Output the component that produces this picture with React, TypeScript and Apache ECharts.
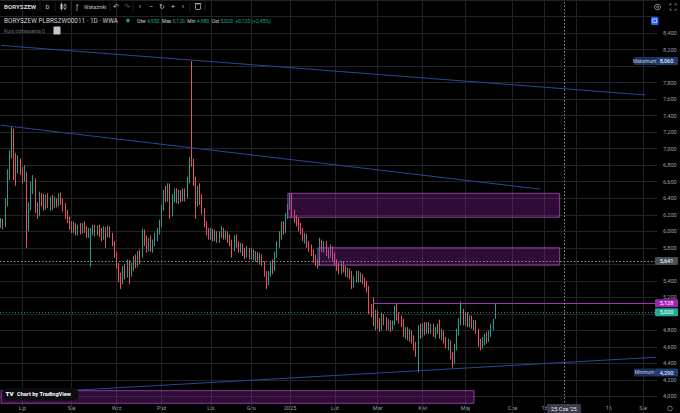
import React, { useEffect, useRef } from 'react';
import * as echarts from 'echarts';

// ---------- data (PLN, [open, close, low, high]) ----------
const jun24 = [
  [6.08, 6.12, 6.04, 6.16], [6.12, 6.08, 6.02, 6.15], [6.08, 6.35, 6.05, 6.40], [6.35, 6.70, 6.30, 6.75],
  [6.70, 6.92, 6.62, 6.98], [6.92, 7.22, 6.88, 7.27], [7.20, 6.88, 6.62, 7.24], [6.88, 6.75, 6.55, 6.95],
  [6.75, 6.85, 6.70, 6.92], [6.85, 6.72, 6.68, 6.88],
];
const jul24 = [
  [6.72, 6.65, 6.58, 6.78], [6.65, 6.70, 6.60, 6.80], [6.68, 6.05, 5.80, 6.72], [6.05, 6.30, 6.00, 6.35],
  [6.30, 6.55, 6.25, 6.60], [6.55, 6.62, 6.45, 6.68], [6.60, 6.28, 6.22, 6.64], [6.28, 6.20, 6.15, 6.35],
  [6.20, 6.42, 6.18, 6.48], [6.42, 6.35, 6.30, 6.46], [6.35, 6.30, 6.25, 6.45], [6.30, 6.40, 6.26, 6.44],
  [6.40, 6.32, 6.28, 6.46], [6.32, 6.38, 6.25, 6.42], [6.38, 6.30, 6.26, 6.44], [6.30, 6.36, 6.28, 6.42],
  [6.36, 6.33, 6.29, 6.40], [6.33, 6.42, 6.30, 6.46], [6.42, 6.36, 6.32, 6.47], [6.36, 6.30, 6.24, 6.40],
  [6.30, 6.22, 6.15, 6.34], [6.22, 6.15, 6.10, 6.26], [6.15, 6.08, 6.02, 6.18],
];
const aug24 = [
  [6.08, 6.02, 5.98, 6.12], [6.02, 6.08, 5.98, 6.12], [6.08, 5.98, 5.95, 6.10], [5.98, 6.05, 5.95, 6.08],
  [6.05, 6.00, 5.96, 6.10], [6.00, 6.06, 5.97, 6.10], [6.06, 6.02, 5.98, 6.12], [6.02, 5.96, 5.92, 6.06],
  [5.96, 6.00, 5.92, 6.04], [5.95, 6.00, 5.57, 6.04], [6.00, 6.05, 5.95, 6.08], [6.05, 5.98, 5.94, 6.08],
  [5.98, 6.04, 5.95, 6.07], [6.04, 6.00, 5.93, 6.08], [6.00, 5.92, 5.88, 6.04], [5.92, 6.02, 5.90, 6.06],
  [6.02, 5.96, 5.80, 6.05], [5.96, 6.04, 5.93, 6.07], [6.04, 5.96, 5.92, 6.06], [5.96, 5.85, 5.82, 5.98],
  [5.85, 5.72, 5.68, 5.88],
];
const sep24 = [
  [5.72, 5.60, 5.55, 5.75], [5.60, 5.45, 5.38, 5.62], [5.45, 5.40, 5.30, 5.50], [5.40, 5.55, 5.36, 5.58],
  [5.55, 5.48, 5.42, 5.60], [5.48, 5.62, 5.44, 5.66], [5.62, 5.50, 5.36, 5.65], [5.50, 5.58, 5.45, 5.62],
  [5.58, 5.65, 5.52, 5.70], [5.65, 5.60, 5.55, 5.72], [5.60, 5.72, 5.57, 5.76], [5.72, 5.68, 5.60, 5.78],
  [5.70, 6.00, 5.68, 6.03], [6.00, 5.90, 5.82, 6.02], [5.90, 5.80, 5.74, 5.95], [5.80, 5.88, 5.76, 5.92],
  [5.88, 5.80, 5.75, 5.95], [5.80, 5.86, 5.74, 5.90], [5.86, 5.95, 5.82, 5.98], [5.95, 6.00, 5.88, 6.04],
  [6.00, 6.10, 5.96, 6.14],
];
const oct24 = [
  [6.10, 6.28, 6.05, 6.32], [6.28, 6.45, 6.25, 6.50], [6.45, 6.40, 6.35, 6.55], [6.40, 6.55, 6.36, 6.58],
  [6.55, 6.20, 6.15, 6.58], [6.22, 6.40, 6.18, 6.45], [6.40, 6.48, 6.35, 6.52], [6.48, 6.38, 6.34, 6.52],
  [6.38, 6.45, 6.33, 6.50], [6.45, 6.40, 6.35, 6.50], [6.40, 6.48, 6.36, 6.52], [6.48, 6.42, 6.36, 6.52],
  [6.42, 6.62, 6.40, 6.66], [6.62, 6.85, 6.58, 6.90], [6.98, 6.82, 6.78, 8.06], [6.82, 6.62, 6.55, 6.88],
  [6.62, 6.38, 6.15, 6.66], [6.38, 6.50, 6.30, 6.55], [6.50, 6.40, 6.32, 6.58], [6.40, 6.25, 6.20, 6.45],
  [6.25, 6.10, 6.05, 6.28], [6.10, 6.00, 5.95, 6.12], [6.00, 5.95, 5.90, 6.04],
];
const nov24 = [
  [5.95, 6.00, 5.90, 6.04], [6.00, 5.92, 5.88, 6.03], [5.92, 5.98, 5.88, 6.02], [5.98, 5.90, 5.86, 6.00],
  [5.90, 5.95, 5.86, 6.00], [5.95, 6.02, 5.92, 6.06], [6.02, 5.94, 5.90, 6.04], [5.94, 5.98, 5.90, 6.01],
  [5.98, 5.92, 5.86, 6.00], [5.92, 5.86, 5.82, 5.96], [5.86, 5.80, 5.68, 5.90], [5.80, 5.90, 5.76, 5.95],
  [5.90, 5.84, 5.80, 5.96], [5.84, 5.78, 5.74, 5.88], [5.78, 5.82, 5.74, 5.86], [5.82, 5.76, 5.70, 5.85],
  [5.76, 5.72, 5.66, 5.80], [5.72, 5.78, 5.68, 5.82], [5.78, 5.70, 5.66, 5.80],
];
const dec24 = [
  [5.70, 5.75, 5.66, 5.80], [5.75, 5.70, 5.65, 5.78], [5.70, 5.72, 5.64, 5.76], [5.72, 5.66, 5.62, 5.75],
  [5.66, 5.70, 5.60, 5.74], [5.70, 5.62, 5.58, 5.72], [5.62, 5.50, 5.45, 5.64], [5.50, 5.42, 5.30, 5.52],
  [5.42, 5.48, 5.35, 5.52], [5.48, 5.60, 5.45, 5.63], [5.60, 5.55, 5.48, 5.66], [5.55, 5.72, 5.52, 5.75],
  [5.72, 5.85, 5.68, 5.88], [5.85, 5.95, 5.80, 6.00], [5.95, 6.08, 5.90, 6.12], [6.08, 6.00, 5.96, 6.12],
  [6.00, 6.18, 5.98, 6.22], [6.18, 6.30, 6.15, 6.33],
];
const jan25 = [
  [6.30, 6.42, 6.26, 6.46], [6.42, 6.22, 6.16, 6.46], [6.22, 6.16, 6.10, 6.26], [6.16, 6.12, 6.06, 6.20],
  [6.12, 6.05, 6.00, 6.16], [6.05, 6.00, 5.96, 6.10], [6.00, 5.92, 5.88, 6.04], [5.92, 5.95, 5.85, 5.98],
  [5.95, 5.84, 5.80, 5.97], [5.84, 5.80, 5.75, 5.88], [5.80, 5.76, 5.70, 5.84], [5.76, 5.68, 5.62, 5.78],
  [5.68, 5.62, 5.58, 5.72], [5.62, 5.58, 5.55, 5.66], [5.60, 5.88, 5.58, 5.92], [5.88, 5.80, 5.75, 5.90],
  [5.80, 5.85, 5.74, 5.88], [5.85, 5.76, 5.70, 5.88], [5.76, 5.72, 5.66, 5.80], [5.72, 5.80, 5.68, 5.84],
  [5.80, 5.70, 5.64, 5.82],
];
const feb25 = [
  [5.70, 5.62, 5.58, 5.74], [5.62, 5.58, 5.52, 5.66], [5.58, 5.52, 5.48, 5.62], [5.52, 5.60, 5.48, 5.64],
  [5.60, 5.55, 5.50, 5.63], [5.55, 5.48, 5.45, 5.58], [5.48, 5.52, 5.44, 5.56], [5.52, 5.45, 5.42, 5.55],
  [5.50, 5.35, 5.30, 5.52], [5.35, 5.42, 5.32, 5.46], [5.42, 5.48, 5.38, 5.52], [5.48, 5.42, 5.38, 5.52],
  [5.42, 5.45, 5.38, 5.50], [5.45, 5.40, 5.36, 5.48], [5.40, 5.36, 5.32, 5.44], [5.36, 5.30, 5.26, 5.40],
  [5.30, 5.08, 5.00, 5.34], [5.08, 5.02, 4.96, 5.12], [5.02, 4.90, 4.85, 5.20], [4.90, 5.00, 4.80, 5.05],
];
const mar25 = [
  [5.00, 4.88, 4.82, 5.04], [4.88, 4.84, 4.78, 4.95], [4.84, 4.98, 4.80, 5.02], [4.98, 4.92, 4.86, 5.00],
  [4.92, 4.85, 4.80, 4.96], [4.85, 4.90, 4.80, 4.94], [4.90, 4.84, 4.78, 4.92], [4.84, 4.88, 4.80, 4.92],
  [4.88, 5.04, 4.86, 5.10], [5.04, 4.98, 4.92, 5.12], [4.98, 4.94, 4.88, 5.02], [4.94, 4.90, 4.84, 4.98],
  [4.90, 4.76, 4.72, 4.94], [4.76, 4.80, 4.70, 4.84], [4.80, 4.72, 4.68, 4.84], [4.72, 4.78, 4.66, 4.82],
  [4.78, 4.70, 4.64, 4.80], [4.70, 4.62, 4.56, 4.74], [4.62, 4.55, 4.48, 4.66], [4.55, 4.82, 4.29, 4.86],
  [4.82, 4.78, 4.70, 4.88],
];
const apr25 = [
  [4.78, 4.85, 4.72, 4.88], [4.85, 4.80, 4.74, 4.90], [4.80, 4.86, 4.76, 4.90], [4.86, 4.82, 4.76, 4.90],
  [4.82, 4.84, 4.76, 4.88], [4.84, 4.76, 4.72, 4.88], [4.76, 4.80, 4.70, 4.84], [4.80, 4.84, 4.76, 4.88],
  [4.84, 4.74, 4.70, 4.93], [4.74, 4.78, 4.68, 4.82], [4.78, 4.68, 4.64, 4.80], [4.68, 4.62, 4.58, 4.72],
  [4.62, 4.65, 4.56, 4.70], [4.65, 4.50, 4.45, 4.68], [4.50, 4.42, 4.35, 4.54], [4.42, 4.60, 4.40, 4.64],
  [4.60, 4.78, 4.56, 4.82], [4.78, 4.90, 4.74, 4.95], [4.90, 5.02, 4.86, 5.15], [5.02, 4.92, 4.86, 5.06],
];
const may25 = [
  [4.92, 4.98, 4.86, 5.02], [4.98, 4.90, 4.84, 5.02], [4.90, 4.94, 4.84, 4.98], [4.94, 4.86, 4.82, 4.98],
  [4.86, 4.90, 4.80, 4.93], [4.90, 4.80, 4.76, 4.92], [4.80, 4.66, 4.60, 4.82], [4.66, 4.62, 4.56, 4.70],
  [4.62, 4.68, 4.58, 4.72], [4.68, 4.72, 4.62, 4.76], [4.72, 4.70, 4.64, 4.78], [4.70, 4.76, 4.66, 4.80],
  [4.76, 4.84, 4.72, 4.88], [4.84, 4.90, 4.80, 4.94], [4.95, 5.02, 4.94, 5.12],
];

const candles = [
  ...jun24, ...jul24, ...aug24, ...sep24, ...oct24, ...nov24,
  ...dec24, ...jan25, ...feb25, ...mar25, ...apr25, ...may25,
];

// calendar
const firstBarDate = '2024-06-17';
const holidays = [
  '2024-08-15', '2024-11-01', '2024-11-11', '2024-12-24', '2024-12-25', '2024-12-26',
  '2024-12-31', '2025-01-01', '2025-01-06', '2025-04-18', '2025-04-21', '2025-05-01',
];
const futureStart = '2025-05-25';
const totalSlots = 307;

// time-axis ticks
const tickDates = [
  '2024-07-01', '2024-08-01', '2024-09-02', '2024-10-01', '2024-11-04', '2024-12-02',
  '2025-01-02', '2025-02-03', '2025-03-03', '2025-04-01', '2025-05-02', '2025-06-01',
  '2025-06-16', '2025-07-01', '2025-07-16', '2025-08-01',
];
const tickLabels = [
  'Lip', 'Sie', 'Wrz', 'Paź', 'Lis', 'Gru', '2025', 'Lut', 'Mar', 'Kwi', 'Maj', 'Cze',
  '16', 'Lip', '16', 'Sie',
];

// drawings (date, price)
const trendUpper = [['2024-06-17', 8.25], ['2025-08-02', 7.65]];
const trendMiddle = [['2024-06-17', 7.284], ['2025-06-14', 6.51]];
const trendLower = [['2024-06-17', 4.025], ['2025-08-07', 4.475]];
const zoneDates = [['2024-12-30', '2025-06-23'], ['2025-01-22', '2025-06-23'], ['2024-06-17', '2025-05-08']];
const zonePrices = [[6.46, 6.17], [5.80, 5.59], [4.07, 3.918]];
const levelStart = '2025-02-27';
const levelPrice = 5.128;
const crossDate = '2025-06-25';
const crossPrice = 5.641;
const crossDateLabel = "25 Cze '25";
const headerValues = ['4,950', '5,120', '4,980', '5,020', '+0,120 (+2,45%)'];

// ---------- build categories ----------
const iso = (d: Date) => d.toISOString().slice(0, 10);
const tradeDates: string[] = [];
{
  const d = new Date(firstBarDate + 'T00:00:00Z');
  while (tradeDates.length < candles.length) {
    const wd = d.getUTCDay();
    const s = iso(d);
    if (wd !== 0 && wd !== 6 && holidays.indexOf(s) < 0) tradeDates.push(s);
    d.setUTCDate(d.getUTCDate() + 1);
  }
}
const futureDates: string[] = [];
{
  const d = new Date(futureStart + 'T00:00:00Z');
  while (tradeDates.length + futureDates.length < totalSlots) {
    futureDates.push(iso(d));
    d.setUTCDate(d.getUTCDate() + 1);
  }
}
const categories = [...tradeDates, ...futureDates];
const lastCat = categories[categories.length - 1];
const crossIdx = categories.indexOf(crossDate);
const tickMap = new Map<string, string>();
tickDates.forEach((d, i) => tickMap.set(d, tickLabels[i]));

const UP = '#22a08f';
const DOWN = '#e8505b';
const MAGENTA = '#a233b8';
const GRID = '#222326';
const AXIS_TXT = '#9a9ea8';
const FONT = 'Roboto, "Noto Sans", "DejaVu Sans", sans-serif';
const fmt = (v: number) => v.toFixed(3).replace('.', ',');

const lastClose = candles[candles.length - 1][1];
const maxHigh = Math.max(...candles.map((c) => c[3]));
const minLow = Math.min(...candles.map((c) => c[2]));
// price-scale values whose tick label is covered by a marker box
const boxedPrices = [maxHigh, crossPrice, lastClose];

function buildOption(): any {
  return {
    animation: false,
    backgroundColor: '#000000',
    grid: { left: 0, right: 23, top: -9.67, bottom: -2.0, containLabel: false },
    xAxis: {
      type: 'category',
      data: categories,
      boundaryGap: true,
      offset: -10,
      axisLine: { show: false },
      axisTick: { show: false },
      splitLine: { show: false },
      axisLabel: {
        interval: (i: number, v: string) => tickMap.has(v) && Math.abs(i - crossIdx) > 8,
        formatter: (v: string) => tickMap.get(v) || '',
        color: AXIS_TXT,
        fontSize: 5.6,
        fontFamily: FONT,
        margin: 2,
      },
    },
    yAxis: {
      type: 'value',
      position: 'right',
      min: 3.8,
      max: 8.8,
      interval: 0.2,
      axisLine: { show: false },
      axisTick: { show: false },
      splitLine: { show: true, lineStyle: { color: GRID, width: 1 } },
      axisLabel: {
        formatter: (v: number) =>
          v > 8.5 || v < 3.9 || boxedPrices.some((b) => Math.abs(b - v) < 0.07) ? '' : fmt(v),
        color: AXIS_TXT,
        fontSize: 5.6,
        fontFamily: FONT,
        margin: 6,
      },
    },
    series: [
      {
        name: 'grid',
        type: 'line',
        data: [],
        z: 1,
        silent: true,
        markLine: {
          silent: true,
          z: 1,
          symbol: ['none', 'none'],
          label: { show: false },
          lineStyle: { color: GRID, width: 1, type: 'solid' },
          data: tickDates.map((d) => ({ xAxis: d })),
        },
      },
      {
        name: 'BORYSZEW',
        type: 'candlestick',
        data: candles,
        barWidth: '55%',
        z: 3,
        itemStyle: { color: UP, color0: DOWN, borderColor: UP, borderColor0: DOWN, borderWidth: 1 },
      },
      ...[trendUpper, trendMiddle, trendLower].map((t) => ({
        type: 'line',
        data: t,
        symbol: 'none',
        silent: true,
        z: 4,
        lineStyle: { color: '#2c4698', width: 1 },
      })),
      {
        name: 'zones',
        type: 'line',
        data: [],
        z: 6,
        silent: true,
        markArea: {
          silent: true,
          z: 6,
          itemStyle: { color: 'rgba(156,39,176,0.3)', borderColor: 'rgba(171,71,188,0.8)', borderWidth: 1 },
          data: zoneDates.map((d, i) => [
            { xAxis: d[0], yAxis: zonePrices[i][0] },
            { xAxis: d[1], yAxis: zonePrices[i][1] },
          ]),
        },
      },
      {
        name: 'level',
        type: 'line',
        data: [],
        z: 7,
        silent: true,
        color: MAGENTA,
        markLine: {
          silent: true,
          z: 7,
          symbol: ['none', 'none'],
          label: { show: false },
          lineStyle: { color: MAGENTA, width: 1, type: 'solid', opacity: 1 },
          data: [[{ coord: [levelStart, levelPrice] }, { coord: [lastCat, levelPrice] }]],
        },
      },
      {
        name: 'crosshair',
        type: 'line',
        data: [],
        z: 7,
        silent: true,
        color: '#8c8f98',
        markLine: {
          silent: true,
          z: 7,
          symbol: ['none', 'none'],
          label: { show: false },
          lineStyle: { color: '#8c8f98', width: 1, type: [1.5, 2] },
          data: [
            { yAxis: lastClose, lineStyle: { color: UP, width: 1, type: [1, 2], opacity: 0.85 } },
            { yAxis: crossPrice },
            { xAxis: crossDate },
          ],
        },
      },
    ],
  };
}

function buildGraphics(chart: any): any[] {
  const yPx = (v: number) => chart.convertToPixel({ yAxisIndex: 0 }, v) as number;
  const xPx = (i: number) => chart.convertToPixel({ xAxisIndex: 0 }, i) as number;
  const els: any[] = [];
  const txt = (x: number, y: number, text: string, o: any = {}) => ({
    type: 'text',
    x,
    y,
    z: 101,
    silent: true,
    style: {
      text,
      fill: o.fill || '#d1d4dc',
      fontSize: o.size || 5.6,
      fontFamily: FONT,
      fontWeight: o.weight || 'normal',
      align: o.align || 'left',
      verticalAlign: 'middle',
      rich: o.rich,
    },
  });
  const rect = (x: number, y: number, w: number, h: number, fill: string, r = 0, z = 100) => ({
    type: 'rect',
    z,
    silent: true,
    shape: { x, y, width: w, height: h, r },
    style: { fill },
  });
  const line = (x1: number, y1: number, x2: number, y2: number, stroke: string, w = 0.8) => ({
    type: 'line',
    z: 101,
    silent: true,
    shape: { x1, y1, x2, y2 },
    style: { stroke, lineWidth: w },
  });

  // ---- price scale labels
  const valBox = (v: number, text: string, fill: string) => {
    const y = yPx(v);
    els.push(rect(655, y - 4, 23, 8, fill, 1));
    els.push(txt(666.5, y, text, { fill: '#ffffff', align: 'center' }));
  };
  const tagBox = (v: number, text: string, fill: string) => {
    const y = yPx(v);
    els.push(rect(634, y - 4, 21, 8, fill, 1));
    els.push(txt(644.5, y, text, { fill: '#c9ccd6', align: 'center', size: 4.6 }));
  };
  tagBox(maxHigh, 'Maksimum', '#18305e');
  valBox(maxHigh, fmt(maxHigh), '#1f3b73');
  valBox(crossPrice, fmt(crossPrice), '#4a4e58');
  valBox(levelPrice, fmt(levelPrice), '#9c27b0');
  valBox(lastClose, fmt(lastClose), '#22ab94');
  tagBox(minLow, 'Minimum', '#18305e');
  valBox(minLow, fmt(minLow), '#1f3b73');

  // ---- crosshair time label
  const cx = xPx(crossIdx);
  els.push(rect(cx - 17, 404, 34, 9, '#3a3e48', 1));
  els.push(txt(cx, 408.5, crossDateLabel, { fill: '#e0e3eb', align: 'center' }));

  // ---- header row 1 (toolbar)
  els.push(txt(4, 6.5, 'BORYSZEW', { weight: 'bold', size: 6.2 }));
  [40, 55, 71, 110, 133, 190, 205].forEach((x) => els.push(line(x, 2, x, 11, '#2a2e39', 0.7)));
  els.push(txt(47.5, 6.5, 'D', { align: 'center', size: 6 }));
  els.push(line(61.5, 2.5, 61.5, 10.5, '#c3c6ce', 0.7));
  els.push(rect(60.5, 4, 2, 5, '#c3c6ce', 0, 101));
  els.push(line(65, 3.5, 65, 10, '#c3c6ce', 0.7));
  els.push(rect(64, 5, 2, 3.5, '#000000', 0, 101));
  els.push({ type: 'rect', z: 101, silent: true, shape: { x: 64, y: 5, width: 2, height: 3.5 }, style: { fill: 'none', stroke: '#c3c6ce', lineWidth: 0.6 } });
  els.push(txt(77, 6.5, 'ƒ', { align: 'center', size: 6.5, fill: '#c3c6ce' }));
  els.push(txt(84, 6.5, 'Wskaźniki', { size: 5, fill: '#c3c6ce' }));
  els.push(txt(116, 6.5, '↶', { align: 'center', size: 7, fill: '#c3c6ce' }));
  els.push(txt(127, 6.5, '↷', { align: 'center', size: 7, fill: '#5d606b' }));
  els.push(txt(140, 6.5, '‹', { align: 'center', size: 8, fill: '#c3c6ce' }));
  els.push(txt(151, 6.5, '−', { align: 'center', size: 7, fill: '#c3c6ce' }));
  els.push(txt(162, 6.5, '↻', { align: 'center', size: 7, fill: '#c3c6ce' }));
  els.push(txt(173, 6.5, '+', { align: 'center', size: 7, fill: '#c3c6ce' }));
  els.push(txt(183, 6.5, '›', { align: 'center', size: 8, fill: '#c3c6ce' }));
  els.push({ type: 'rect', z: 101, silent: true, shape: { x: 195.5, y: 4, width: 5, height: 5.5, r: 0.6 }, style: { fill: 'none', stroke: '#c3c6ce', lineWidth: 0.7 } });
  els.push(line(194.5, 3.5, 201.5, 3.5, '#c3c6ce', 0.7));

  // ---- header row 2 (legend)
  els.push(txt(4, 20.5, 'BORYSZEW PLBRSZW00011 · 1D · WWA', { size: 6.4, fill: '#d1d4dc' }));
  els.push({ type: 'circle', z: 101, silent: true, shape: { cx: 128, cy: 20.5, r: 2.6 }, style: { fill: 'rgba(34,171,148,0.25)' } });
  els.push({ type: 'circle', z: 102, silent: true, shape: { cx: 128, cy: 20.5, r: 1.5 }, style: { fill: '#22ab94' } });
  const [o, h, l, c, ch] = headerValues;
  els.push(
    txt(137, 20.5, `{l|Otw} {v|${o}}  {l|Max} {v|${h}}  {l|Min} {v|${l}}  {l|Ost} {v|${c}}  {v|${ch}}`, {
      size: 5,
      rich: {
        l: { fill: '#d1d4dc', fontSize: 5, fontFamily: FONT },
        v: { fill: '#22ab94', fontSize: 5, fontFamily: FONT },
      },
    })
  );

  // ---- header row 3
  els.push(txt(4, 31, 'Kurs odniesienia 0', { size: 5, fill: '#6a6d78' }));
  els.push(rect(53.5, 26.5, 7, 8, '#c4c6cc', 0.5, 101));

  // ---- top-right icons
  els.push({ type: 'ring', z: 101, silent: true, shape: { cx: 657.5, cy: 7, r: 3.2, r0: 2.5 }, style: { fill: '#b2b5be' } });
  els.push({ type: 'circle', z: 101, silent: true, shape: { cx: 657.5, cy: 7, r: 1 }, style: { fill: 'none', stroke: '#b2b5be', lineWidth: 0.6 } });
  const fs = '#b2b5be';
  els.push({ type: 'polyline', z: 101, silent: true, shape: { points: [[670, 5.5], [670, 4], [671.5, 4]] }, style: { stroke: fs, lineWidth: 0.7, fill: 'none' } });
  els.push({ type: 'polyline', z: 101, silent: true, shape: { points: [[674.5, 4], [676, 4], [676, 5.5]] }, style: { stroke: fs, lineWidth: 0.7, fill: 'none' } });
  els.push({ type: 'polyline', z: 101, silent: true, shape: { points: [[670, 8.5], [670, 10], [671.5, 10]] }, style: { stroke: fs, lineWidth: 0.7, fill: 'none' } });
  els.push({ type: 'polyline', z: 101, silent: true, shape: { points: [[674.5, 10], [676, 10], [676, 8.5]] }, style: { stroke: fs, lineWidth: 0.7, fill: 'none' } });
  els.push(rect(651, 17, 7.5, 8, '#2962ff', 1, 101));
  els.push({ type: 'rect', z: 102, silent: true, shape: { x: 652.7, y: 19, width: 4, height: 3.5 }, style: { fill: 'none', stroke: '#ffffff', lineWidth: 0.6 } });

  // ---- bottom-right icon
  els.push({ type: 'ring', z: 101, silent: true, shape: { cx: 670, cy: 408.5, r: 2.6, r0: 2 }, style: { fill: '#9a9ea8' } });

  // ---- TradingView badge
  els.push(rect(2, 388, 77, 12.5, '#0c0d10', 6.25, 100));
  els.push(txt(9.5, 394.3, 'TV', { weight: 900, size: 6.2, fill: '#ffffff', align: 'center' }));
  els.push(txt(17, 394.3, 'Chart by TradingView', { weight: 'bold', size: 5.6, fill: '#ffffff' }));

  return els;
}

export default function App() {
  const ref = useRef<HTMLDivElement>(null);
  useEffect(() => {
    if (!ref.current) return;
    const chart = echarts.init(ref.current, null, { renderer: 'svg' });
    chart.setOption(buildOption());
    chart.setOption({ graphic: { elements: buildGraphics(chart) } });
    return () => chart.dispose();
  }, []);
  return (
    <div
      ref={ref}
      style={{ position: 'fixed', left: 0, top: 0, width: 680, height: 413, background: '#000' }}
    />
  );
}
